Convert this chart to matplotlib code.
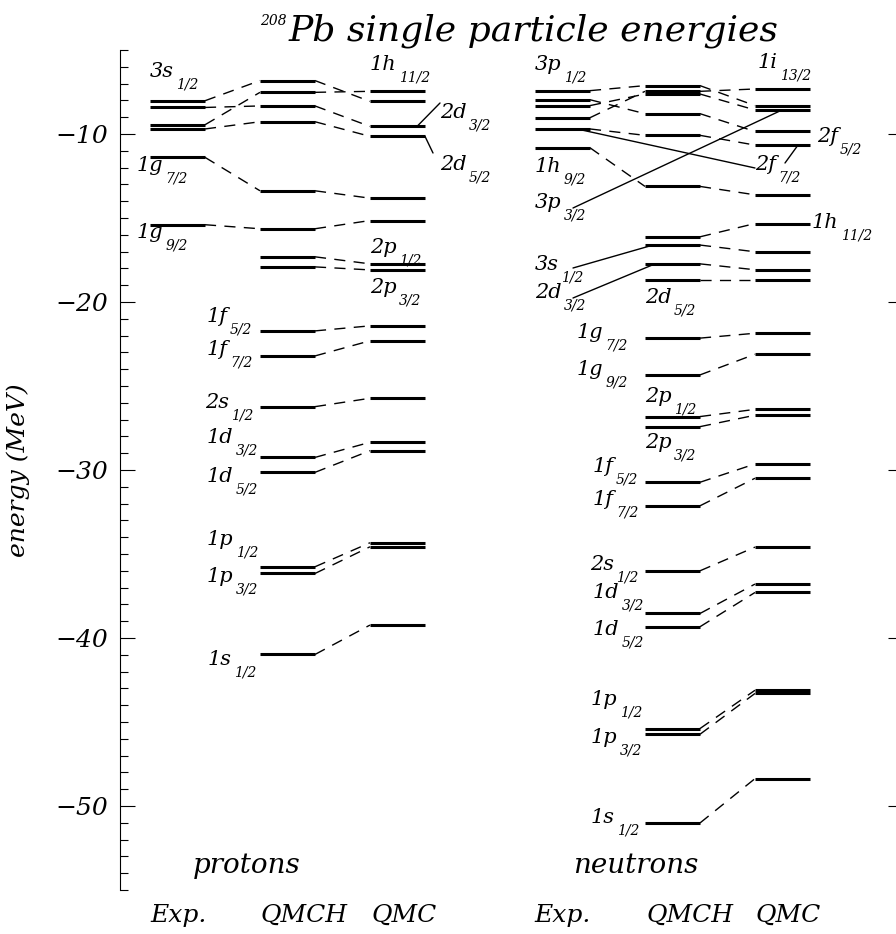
import matplotlib
matplotlib.use('Agg')
import matplotlib.pyplot as plt
import matplotlib.transforms as mtransforms
from matplotlib.patches import ConnectionPatch
from matplotlib.ticker import FixedLocator, MultipleLocator

# ---------------- data (MeV) ----------------
p_states = ['3s1/2', '2d3/2', '1h11/2', '2d5/2', '1g7/2', '1g9/2', '2p1/2', '2p3/2',
            '1f5/2', '1f7/2', '2s1/2', '1d3/2', '1d5/2', '1p1/2', '1p3/2', '1s1/2']
p_exp = [-8.02, -8.42, -9.45, -9.70, -11.39, -15.40,
         None, None, None, None, None, None, None, None, None, None]
p_qmch = [-6.82, -8.33, -7.52, -9.27, -13.38, -15.64, -17.31, -17.91,
          -21.72, -23.21, -26.23, -29.25, -30.14, -35.76, -36.16, -40.98]
p_qmc = [-8.06, -9.55, -7.46, -10.14, -13.82, -15.15, -17.73, -18.09,
         -21.42, -22.31, -25.73, -28.35, -28.85, -34.33, -34.57, -39.23]

n_states = ['3p1/2', '2f5/2', '3p3/2', '1i13/2', '2f7/2', '1h9/2', '1h11/2', '3s1/2',
            '2d3/2', '2d5/2', '1g7/2', '1g9/2', '2p1/2', '2p3/2', '1f5/2', '1f7/2',
            '2s1/2', '1d3/2', '1d5/2', '1p1/2', '1p3/2', '1s1/2']
n_exp = [-7.42, -7.96, -8.31, -9.03, -9.70, -10.82,
         None, None, None, None, None, None, None, None, None, None,
         None, None, None, None, None, None]
n_qmch = [-7.12, -8.79, -7.62, -7.46, -10.08, -13.12, -16.12, -16.61,
          -17.73, -18.68, -22.15, -24.34, -26.82, -27.42, -30.73, -32.13,
          -36.00, -38.54, -39.33, -45.39, -45.73, -51.01]
n_qmc = [-8.31, -9.85, -8.57, -7.32, -10.66, -13.62, -15.33, -17.01,
         -18.08, -18.68, -21.86, -23.11, -26.39, -26.74, -29.64, -30.49,
         -34.59, -36.79, -37.29, -43.11, -43.30, -48.37]

models = ['Exp.', 'QMCH', 'QMC']
yticks = [-10, -20, -30, -40, -50]
ytick_labels = ['\u221210', '\u221220', '\u221230', '\u221240', '\u221250']

# ---------------- figure ----------------
W, H = 896, 934
fig = plt.figure(figsize=(W / 100, H / 100), dpi=100)
ax = fig.add_axes([120 / W, 1 - 890 / H, (W - 120) / W, 840 / H])
ax.set_xlim(120, 896)
ax.set_ylim(-55, -5)

# pixel transform (top-left origin) for annotations
pix = mtransforms.Affine2D().scale(1 / W, -1 / H).translate(0, 1) + fig.transFigure

FONT = dict(family='DejaVu Serif', style='italic', color='black')

# column extents (x in axis units)
cols = {
    'p': [(150, 205), (260, 315), (370, 425)],
    'n': [(535, 590), (645, 700), (755, 810)],
}

LW_LEVEL = 2.2
LW_THIN = 1.0
DASH = (0, (8, 6))


def draw_species(key, series):
    cx = cols[key]
    for vals in zip(*series):
        for m, v in enumerate(vals):
            if v is None:
                continue
            ax.plot(cx[m], [v, v], color='black', lw=LW_LEVEL, solid_capstyle='butt')
        for m in range(len(vals) - 1):
            a, b = vals[m], vals[m + 1]
            if a is None or b is None:
                continue
            ax.plot([cx[m][1], cx[m + 1][0]], [a, b], color='black', lw=LW_THIN,
                    ls=DASH, dash_capstyle='butt')


draw_species('p', [p_exp, p_qmch, p_qmc])
draw_species('n', [n_exp, n_qmch, n_qmc])


# ---------------- state labels ----------------
def lab(x, yb, state):
    main, sub = state[:2], state[2:]
    t = fig.text(x, yb, main, transform=pix, fontsize=15, va='baseline', ha='left', **FONT)
    ax.annotate(sub, xy=(1, 0), xycoords=t, xytext=(1.5, 2.5), textcoords='offset points',
                fontsize=10, va='top', ha='left', **FONT)


p_labels = [
    (150, 77, '3s1/2'), (137, 171, '1g7/2'), (137, 238, '1g9/2'),
    (370, 70, '1h11/2'), (440, 118, '2d3/2'), (440, 170, '2d5/2'),
    (370, 253, '2p1/2'), (370, 293, '2p3/2'),
    (207, 322, '1f5/2'), (207, 355, '1f7/2'), (205, 408, '2s1/2'),
    (207, 443, '1d3/2'), (207, 482, '1d5/2'), (207, 545, '1p1/2'),
    (207, 582, '1p3/2'), (208, 665, '1s1/2'),
]
n_labels = [
    (535, 70, '3p1/2'), (535, 172, '1h9/2'), (535, 208, '3p3/2'),
    (535, 270, '3s1/2'), (535, 298, '2d3/2'), (645, 303, '2d5/2'),
    (758, 68, '1i13/2'), (817, 142, '2f5/2'), (755, 170, '2f7/2'),
    (812, 228, '1h11/2'),
    (577, 338, '1g7/2'), (577, 375, '1g9/2'), (645, 402, '2p1/2'),
    (645, 448, '2p3/2'), (593, 472, '1f5/2'), (593, 505, '1f7/2'),
    (590, 570, '2s1/2'), (593, 598, '1d3/2'), (593, 635, '1d5/2'),
    (591, 705, '1p1/2'), (591, 743, '1p3/2'), (591, 823, '1s1/2'),
]
for x, yb, s in p_labels + n_labels:
    lab(x, yb, s)


# ---------------- pointer lines ----------------
def pointer(label_xy, level_x, energy):
    cp = ConnectionPatch(xyA=label_xy, coordsA=pix, xyB=(level_x, energy), coordsB=ax.transData,
                         color='black', lw=LW_THIN)
    fig.add_artist(cp)


pointer((440, 103), 417, p_qmc[p_states.index('2d3/2')])
pointer((433, 153), 425, p_qmc[p_states.index('2d5/2')])
pointer((573, 208), 782, n_qmc[n_states.index('3p3/2')])
pointer((573, 268), 653, n_qmch[n_states.index('3s1/2')])
pointer((573, 298), 655, n_qmch[n_states.index('2d3/2')])
pointer((785, 163), 798, n_qmc[n_states.index('2f7/2')])
pointer((755, 168), 577, n_exp[n_states.index('2f7/2')])

# ---------------- text ----------------
fig.text(289, 40, 'Pb single particle energies', transform=pix, fontsize=26,
         va='baseline', ha='left', **FONT)
fig.text(287, 25, '208', transform=pix, fontsize=10, va='baseline', ha='right', **FONT)

fig.text(18, 470, 'energy (MeV)', transform=pix, fontsize=18, rotation=90,
         va='center', ha='center', **FONT)

fig.text(193, 873, 'protons', transform=pix, fontsize=20, va='baseline', ha='left', **FONT)
fig.text(573, 873, 'neutrons', transform=pix, fontsize=20, va='baseline', ha='left', **FONT)

col_label_x = {'p': [150, 260, 371], 'n': [534, 646, 755]}
for key in ('p', 'n'):
    for m, name in enumerate(models):
        fig.text(col_label_x[key][m], 922, name, transform=pix, fontsize=18,
                 va='baseline', ha='left', **FONT)

# ---------------- axes styling ----------------
for s in ('top', 'bottom', 'right'):
    ax.spines[s].set_visible(False)
ax.spines['left'].set_linewidth(0.8)
ax.set_xticks([])
ax.yaxis.set_major_locator(FixedLocator(yticks))
ax.set_yticklabels(ytick_labels)
ax.yaxis.set_minor_locator(MultipleLocator(1))
ax.tick_params(axis='y', which='major', direction='in', length=10.8, width=0.8, pad=8.5,
               labelsize=18)
ax.tick_params(axis='y', which='minor', direction='in', length=5.8, width=0.8)
for t in ax.get_yticklabels():
    t.set_family('DejaVu Serif')
    t.set_style('italic')

sec = ax.secondary_yaxis('right')
sec.spines['right'].set_visible(False)
sec.set_yticks(yticks)
sec.set_yticklabels([])
sec.tick_params(axis='y', which='major', direction='in', length=6, width=0.8)
sec.yaxis.set_minor_locator(FixedLocator([]))

fig.savefig('out.png', dpi=100)
